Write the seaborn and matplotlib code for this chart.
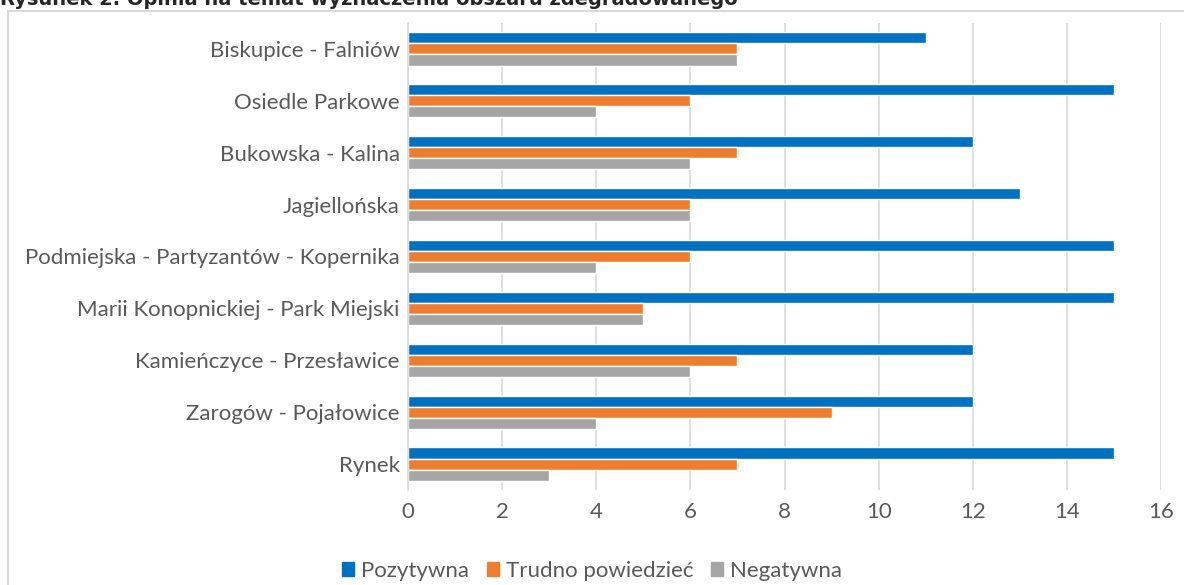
import pandas as pd
import matplotlib.pyplot as plt
import seaborn as sns
from matplotlib.patches import Rectangle

# Dane z wykresu
obszary = [
    'Biskupice - Falniów',
    'Osiedle Parkowe',
    'Bukowska - Kalina',
    'Jagiellońska',
    'Podmiejska - Partyzantów - Kopernika',
    'Marii Konopnickiej - Park Miejski',
    'Kamieńczyce - Przesławice',
    'Zarogów - Pojałowice',
    'Rynek',
]
pozytywna = [11, 15, 12, 13, 15, 15, 12, 12, 15]
trudno = [7, 6, 7, 6, 6, 5, 7, 9, 7]
negatywna = [7, 4, 6, 6, 4, 5, 6, 4, 3]
serie = ['Pozytywna', 'Trudno powiedzieć', 'Negatywna']
kolory = ['#0070C0', '#ED7D31', '#A5A5A5']
xticks = [0, 2, 4, 6, 8, 10, 12, 14, 16]

df = pd.DataFrame({'obszar': obszary, serie[0]: pozytywna,
                   serie[1]: trudno, serie[2]: negatywna})
df = df.melt(id_vars='obszar', var_name='opinia', value_name='liczba')

sns.set_style('white')
plt.rcParams['font.family'] = ['Lato', 'DejaVu Sans']
tekst = '#595959'

fig = plt.figure(figsize=(11.84, 5.85), dpi=100)
W, H = 1184, 585
ax = fig.add_axes([408 / W, 1 - 490 / H, (1161 - 408) / W, (490 - 23) / H])

sns.barplot(data=df, y='obszar', x='liczba', hue='opinia', order=obszary,
            hue_order=serie, palette=kolory, orient='h', width=0.64,
            saturation=1, ax=ax, legend=False)

ax.set_xlim(0, 16)
ax.set_xticks(xticks)
ax.grid(axis='x', color='#d9d9d9', linewidth=1.2)
ax.set_axisbelow(True)
for s in ['top', 'right', 'bottom']:
    ax.spines[s].set_visible(False)
ax.spines['left'].set_color('#d9d9d9')
ax.spines['left'].set_linewidth(1.2)
ax.tick_params(axis='both', length=0, labelsize=16, colors=tekst, pad=6)
ax.tick_params(axis='x', pad=9)
ax.set_xlabel('')
ax.set_ylabel('')

# Legenda
uchwyty = [Rectangle((0, 0), 1, 1, color=c) for c in kolory]
fig.legend(uchwyty, serie, loc='center', bbox_to_anchor=(0.5, 1 - 571 / H),
           ncol=3, frameon=False, fontsize=16, labelcolor=tekst,
           handlelength=0.55, handleheight=0.55, handletextpad=0.3,
           columnspacing=0.8)

# Ramka wykresu
fig.patches.append(Rectangle((8 / W, -0.1), 1.2, 1 - 11 / H + 0.1,
                             transform=fig.transFigure, fill=False,
                             edgecolor='#d9d9d9', linewidth=1.5))

fig.text(0, 1 - 5 / H, 'Rysunek 2. Opinia na temat wyznaczenia obszaru zdegradowanego',
         fontsize=14, fontweight='bold', family='DejaVu Sans', va='baseline')

fig.savefig('out.png', dpi=100)
